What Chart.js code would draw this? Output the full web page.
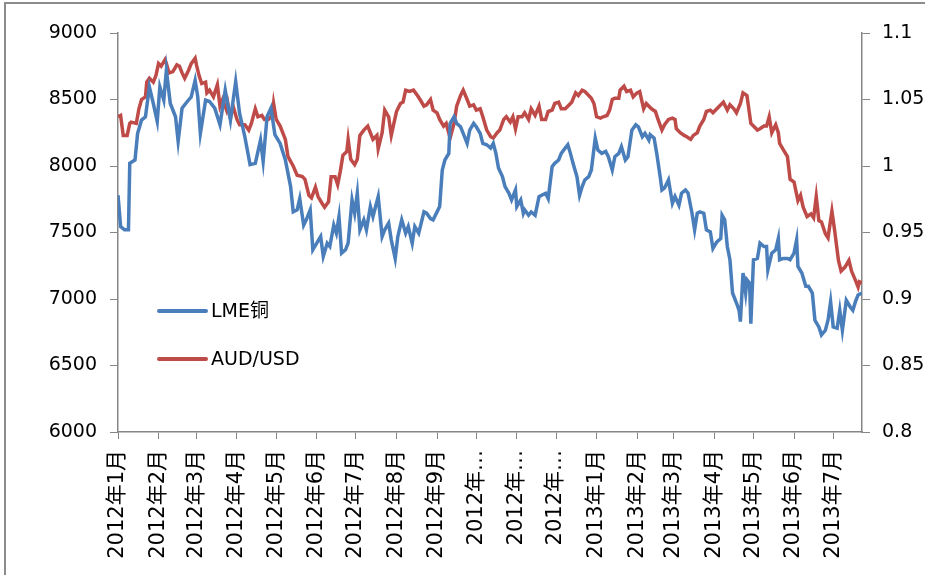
<!DOCTYPE html>
<html>
<head>
<meta charset="utf-8">
<script src="https://cdn.jsdelivr.net/npm/chart.js@4.4.1/dist/chart.umd.min.js"></script>
<style>
  html, body { margin: 0; padding: 0; background: #fff; }
  #wrap { position: relative; width: 925px; height: 575px; }
</style>
</head>
<body>
<div id="wrap"><canvas id="chart" width="925" height="575"></canvas></div>
<script>
// month tick labels and their day offsets from 2012-01-01
const monthLabels = ['2012年1月', '2012年2月', '2012年3月', '2012年4月', '2012年5月', '2012年6月',
  '2012年7月', '2012年8月', '2012年9月', '2012年…', '2012年…', '2012年…',
  '2013年1月', '2013年2月', '2013年3月', '2013年4月', '2013年5月', '2013年6月', '2013年7月'];
const monthDays = [0, 31, 60, 91, 121, 152, 182, 213, 244, 274, 305, 335, 366, 397, 425, 456, 486, 517, 547];
const lastDay = 569;

// LME copper (left axis)
const copperDays = [0, 2, 5, 8, 9, 13, 15, 18, 21, 24, 27, 30, 32, 35, 37, 40, 44, 46, 49, 53, 56, 59, 61, 63, 67, 70,
  74, 78, 82, 86, 90, 93, 97, 101, 105, 109, 111, 114, 117, 120,
  124, 128, 132, 134, 137, 139, 142, 144, 147, 149, 152, 155, 157, 160, 162, 165, 167, 169, 171, 174, 176, 179,
  181, 183, 185, 188, 190, 193, 195, 199, 202, 204, 207, 209, 212, 214, 217, 220, 222, 225, 227, 230, 234, 236,
  239, 241, 244, 246, 248, 250, 253, 254, 257, 259,
  262, 264, 267, 269, 272, 274, 277, 279, 282, 285, 287, 289, 291, 294, 296, 299, 301, 304, 305, 308, 310, 311,
  314, 316, 319, 322, 324, 327, 329, 332, 334, 337, 339, 342, 344, 346, 348, 351, 353, 355, 357, 360, 362, 365,
  367, 370, 373, 375, 378, 380, 383, 385, 388, 390, 393, 396, 398,
  401, 403, 406, 407, 410, 412, 415, 416, 418, 421, 424, 426, 429, 431, 434, 436, 439, 441, 443, 445, 448, 450,
  453, 455, 458, 461, 462, 464, 466, 468, 470, 473, 475, 476, 478, 480, 481, 483, 484, 486, 489, 491, 494, 496,
  497, 500, 503, 505, 506, 509, 512, 514, 517, 519, 520, 523, 526, 528, 531, 533, 536, 538, 541, 543, 545, 547,
  550, 552, 554, 557, 560, 562, 564, 566, 569];
const copperPrice = [7780, 7545, 7520, 7520, 8020, 8045, 8245, 8345, 8370, 8595, 8470, 8335, 8595, 8495, 8720, 8470,
  8370, 8185, 8435, 8485, 8520, 8645, 8520, 8245, 8495, 8485, 8435, 8310, 8570, 8345, 8635, 8395, 8220, 8010, 8020,
  8195, 8035, 8370, 8435, 8235,
  8170, 8045, 7845, 7655, 7670, 7755, 7555, 7595, 7670, 7370, 7420, 7470, 7320, 7420, 7395, 7555, 7495, 7620, 7345,
  7370, 7420, 7745, 7645, 7795, 7520, 7595, 7520, 7695, 7620, 7770, 7470, 7520, 7570, 7445, 7305, 7470, 7595, 7495,
  7545, 7420, 7545, 7495, 7655, 7645, 7605, 7595, 7655, 7695, 7970, 8045, 8095, 8320, 8370, 8320,
  8295, 8245, 8170, 8270, 8320, 8295, 8245, 8170, 8160, 8135, 8170, 8095, 7985, 7920, 7845, 7795, 7745, 7820, 7695,
  7745, 7645, 7670, 7630, 7655, 7630, 7770, 7780, 7795, 7755, 7995, 8020, 8045, 8095, 8135, 8160, 8095, 8020, 7920,
  7780, 7845, 7895, 7920, 7970, 8210, 8120, 8095, 8110, 8070, 7970, 8070, 8095, 8145, 8045, 8070, 8270, 8310, 8295,
  8220, 8245, 8195, 8235, 8210, 8095, 7895, 7820, 7835, 7895, 7720, 7770, 7705, 7795, 7820, 7795, 7645, 7520, 7645,
  7655, 7645, 7520, 7505, 7380, 7430, 7455, 7630, 7595, 7395, 7295, 7045, 6970, 6915, 6830, 7195, 7045, 7145, 7120,
  6815, 7295, 7305, 7420, 7395, 7395, 7220, 7345, 7370, 7455, 7295, 7305, 7305, 7295, 7345, 7445, 7245, 7195, 7095,
  7095, 7045, 6840, 6790, 6730, 6765, 6840, 6980, 6790, 6780, 6915, 6765, 6990, 6940, 6915, 6980, 7030, 7045];

// AUD/USD (right axis)
const audDays = [0, 2, 4, 7, 9, 10, 14, 16, 18, 21, 22, 24, 27, 29, 31, 33, 36, 37, 39, 42, 45, 47, 49, 51, 54, 56,
  59, 60, 62, 64, 67, 68, 70, 73, 76, 78, 80, 83, 84, 86, 88, 91, 93, 97, 100, 102, 105, 107, 110, 112, 115, 118,
  119, 121,
  124, 128, 130, 134, 137, 141, 143, 146, 148, 151, 153, 156, 158, 161, 163, 166, 168, 170, 172, 175, 176, 178,
  181, 183, 185, 188, 191, 193, 195, 198, 199, 202, 204, 207, 209, 211, 213, 216, 218, 220, 223, 226, 229, 231,
  234, 236, 239, 241, 244, 246, 249, 251, 254, 257, 259,
  262, 264, 267, 269, 272, 274, 277, 279, 282, 285, 287, 290, 292, 295, 297, 300, 302, 304, 306, 309, 311, 314,
  316, 319, 322, 324, 327, 329, 332, 334, 337, 339, 342, 344, 347, 350, 352, 355, 357, 360, 362, 364, 366, 369,
  371, 374, 376, 378, 380, 383, 384, 387, 389, 392, 394, 397, 399,
  402, 404, 408, 411, 413, 416, 418, 421, 424, 426, 427, 430, 433, 435, 438, 440, 443, 445, 448, 450, 453, 455,
  458, 461, 463, 466, 468, 471, 473, 476, 478, 481, 484, 486, 489, 491, 494, 496, 498, 500, 503, 505, 506, 509,
  512, 514, 517, 520, 522, 524, 527, 530, 532, 534, 536, 538, 541, 543, 546, 548, 551, 553, 556, 559, 561, 564,
  566, 567, 569];
const audRate = [1.037, 1.038, 1.023, 1.023, 1.032, 1.033, 1.032, 1.043, 1.050, 1.052, 1.063, 1.066, 1.063, 1.068,
  1.077, 1.075, 1.080, 1.077, 1.070, 1.071, 1.076, 1.075, 1.070, 1.066, 1.072, 1.077, 1.081, 1.076, 1.068, 1.062,
  1.063, 1.055, 1.057, 1.052, 1.061, 1.045, 1.050, 1.042, 1.047, 1.036, 1.045, 1.035, 1.031, 1.031, 1.027, 1.032,
  1.043, 1.037, 1.038, 1.035, 1.035, 1.038, 1.047, 1.035,
  1.030, 1.020, 1.007, 1.000, 0.993, 0.992, 0.990, 0.978, 0.976, 0.984, 0.977, 0.972, 0.969, 0.973, 0.992, 0.992,
  0.986, 0.996, 1.008, 1.011, 1.020, 1.005, 1.001, 1.005, 1.023, 1.027, 1.030, 1.025, 1.020, 1.023, 1.013, 1.025,
  1.042, 1.037, 1.023, 1.032, 1.041, 1.047, 1.048, 1.057, 1.056, 1.057, 1.053, 1.050, 1.045, 1.046, 1.050, 1.042,
  1.040, 1.035, 1.030, 1.032, 1.021, 1.032, 1.045,
  1.053, 1.057, 1.050, 1.045, 1.046, 1.042, 1.043, 1.037, 1.027, 1.022, 1.021, 1.025, 1.027, 1.035, 1.037, 1.033,
  1.037, 1.028, 1.037, 1.037, 1.040, 1.035, 1.043, 1.038, 1.045, 1.035, 1.035, 1.041, 1.042, 1.047, 1.048, 1.043,
  1.043, 1.045, 1.048, 1.055, 1.053, 1.057, 1.056, 1.053, 1.051, 1.047, 1.037, 1.036, 1.037, 1.038, 1.042, 1.050,
  1.051, 1.051, 1.057, 1.060, 1.056, 1.057, 1.052, 1.055, 1.056,
  1.043, 1.047, 1.043, 1.041, 1.035, 1.027, 1.031, 1.035, 1.036, 1.035, 1.028, 1.025, 1.023, 1.022, 1.020, 1.023,
  1.025, 1.030, 1.035, 1.041, 1.042, 1.040, 1.043, 1.046, 1.048, 1.042, 1.046, 1.043, 1.040, 1.047, 1.055, 1.053,
  1.032, 1.030, 1.027, 1.028, 1.030, 1.030, 1.037, 1.025, 1.031, 1.025, 1.017, 1.012, 1.007, 0.990, 0.988, 0.974,
  0.978, 0.969, 0.962, 0.964, 0.961, 0.977, 0.959, 0.958, 0.949, 0.946, 0.966, 0.952, 0.929, 0.921, 0.924, 0.929,
  0.921, 0.914, 0.909, 0.913, 0.912];

const axisColor = '#868686';
const font = "'DejaVu Sans', 'Noto Sans CJK SC', sans-serif";

const toPoints = (xs, ys) => xs.map((x, i) => ({ x: x, y: ys[i] }));

const legendItems = [
  { text: 'LME铜', color: '#4a7ebb', y: 311 },
  { text: 'AUD/USD', color: '#be4b48', y: 359 }
];

// legend sits inside the plot; the outer frame only shows on the left and top
const extras = {
  id: 'extras',
  afterDraw(chart) {
    const ctx = chart.ctx;
    ctx.save();
    ctx.strokeStyle = '#8c8c8c';
    ctx.lineWidth = 2;
    ctx.beginPath();
    ctx.moveTo(5, 575);
    ctx.lineTo(5, 3);
    ctx.lineTo(925, 3);
    ctx.stroke();
    ctx.font = '19px ' + font;
    ctx.textBaseline = 'middle';
    ctx.fillStyle = '#000';
    legendItems.forEach(item => {
      ctx.strokeStyle = item.color;
      ctx.lineWidth = 4;
      ctx.lineCap = 'round';
      ctx.beginPath();
      ctx.moveTo(159, item.y);
      ctx.lineTo(206, item.y);
      ctx.stroke();
      ctx.fillText(item.text, 211, item.y + 1);
    });
    ctx.restore();
  }
};

new Chart(document.getElementById('chart'), {
  type: 'line',
  data: {
    datasets: [
      {
        label: 'LME铜',
        data: toPoints(copperDays, copperPrice),
        borderColor: '#4a7ebb',
        borderWidth: 3.5,
        pointRadius: 0,
        yAxisID: 'y'
      },
      {
        label: 'AUD/USD',
        data: toPoints(audDays, audRate),
        borderColor: '#be4b48',
        borderWidth: 3.5,
        pointRadius: 0,
        yAxisID: 'y1'
      }
    ]
  },
  options: {
    responsive: false,
    animation: false,
    layout: { padding: { top: 33, left: 0, right: 0, bottom: 0 } },
    plugins: { legend: { display: false }, tooltip: { enabled: false } },
    scales: {
      x: {
        type: 'linear',
        min: 0,
        max: lastDay,
        afterBuildTicks: scale => { scale.ticks = monthDays.map(v => ({ value: v })); },
        afterFit: scale => { scale.height = 143; },
        ticks: {
          autoSkip: false,
          minRotation: 90,
          maxRotation: 90,
          padding: 11,
          color: '#000',
          font: { family: font, size: 21 },
          callback: (v, i) => monthLabels[i]
        },
        grid: { drawOnChartArea: false, drawTicks: true, tickLength: 7, color: axisColor },
        border: { display: true, color: axisColor, width: 1.5 }
      },
      y: {
        position: 'left',
        min: 6000,
        max: 9000,
        afterFit: scale => { scale.width = 118; },
        ticks: {
          stepSize: 500,
          padding: 13,
          color: '#000',
          font: { family: font, size: 19 },
          callback: v => String(v)
        },
        grid: { drawOnChartArea: false, drawTicks: true, tickLength: 8, color: axisColor },
        border: { display: true, color: axisColor, width: 1.5 }
      },
      y1: {
        position: 'right',
        min: 0.8,
        max: 1.1,
        afterFit: scale => { scale.width = 63; },
        ticks: {
          stepSize: 0.05,
          padding: 12,
          color: '#000',
          font: { family: font, size: 19 },
          callback: v => String(+v.toFixed(2))
        },
        grid: { drawOnChartArea: false, drawTicks: true, tickLength: 8, color: axisColor },
        border: { display: true, color: axisColor, width: 1.5 }
      }
    }
  },
  plugins: [extras]
});
</script>
</body>
</html>
